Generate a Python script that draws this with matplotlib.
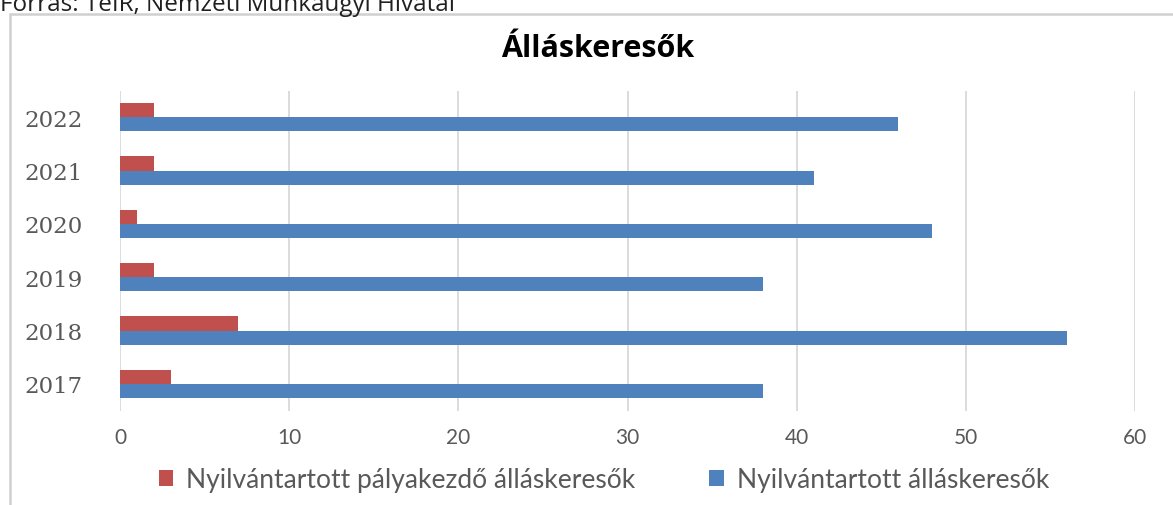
import matplotlib.pyplot as plt
import numpy as np
from matplotlib.patches import Rectangle

# registered job seekers per year
years = ["2017", "2018", "2019", "2020", "2021", "2022"]
palyakezdo = [3, 7, 2, 1, 2, 2]
osszes = [38, 56, 38, 48, 41, 46]
xticks = [0, 10, 20, 30, 40, 50, 60]

RED = "#C0504D"
BLUE = "#4F81BD"
GREY = "#595959"

fig = plt.figure(figsize=(11.73, 5.06), dpi=100)
ax = fig.add_axes([120 / 1173, 1 - 411.5 / 506, 1015 / 1173, 320 / 506])

y = np.arange(len(years))
h = 0.265
b1 = ax.barh(y + h / 2, palyakezdo, height=h, color=RED,
             label="Nyilvántartott pályakezdő álláskeresők", zorder=3)
b2 = ax.barh(y - h / 2, osszes, height=h, color=BLUE,
             label="Nyilvántartott álláskeresők", zorder=3)

ax.set_xlim(0, 60)
ax.set_ylim(-0.5, len(years) - 0.5)
ax.set_xticks(xticks)
ax.set_xticklabels([str(t) for t in xticks], fontfamily="Lato", fontsize=15, color=GREY)
ax.set_yticks(y)
ax.set_yticklabels(years, fontfamily="DejaVu Serif", fontsize=16.5, color=GREY)
ax.tick_params(axis="x", length=0, pad=12)
ax.tick_params(axis="y", length=0, pad=27)
ax.grid(axis="x", color="#d9d9d9", linewidth=1.3, zorder=0)
for s in ax.spines.values():
    s.set_visible(False)

# outer chart frame
fig.patches.append(Rectangle((10 / 1173, -0.1), 1.2, 1 - 15 / 506 + 0.1,
                             transform=fig.transFigure, fill=False,
                             edgecolor="#d0d0d0", linewidth=1.8, zorder=0))

fig.text(0.0, 1 - 11 / 506, "Forrás: TeIR, Nemzeti Munkaügyi Hivatal",
         fontfamily="Open Sans", fontsize=17.5, color="#202020", va="baseline", ha="left")
fig.text(598 / 1173, 1 - 49 / 506, "Álláskeresők", fontfamily="Open Sans",
         fontweight="bold", fontsize=22, color="black", ha="center", va="center")

fig.legend(handles=[b1, b2], loc="center", bbox_to_anchor=(604 / 1173, 1 - 481 / 506),
           ncol=2, frameon=False, prop={"family": "Lato", "size": 19},
           labelcolor=GREY, handlelength=0.55, handleheight=0.55,
           handletextpad=0.5, columnspacing=2.8)

fig.savefig("out.png", dpi=100)
